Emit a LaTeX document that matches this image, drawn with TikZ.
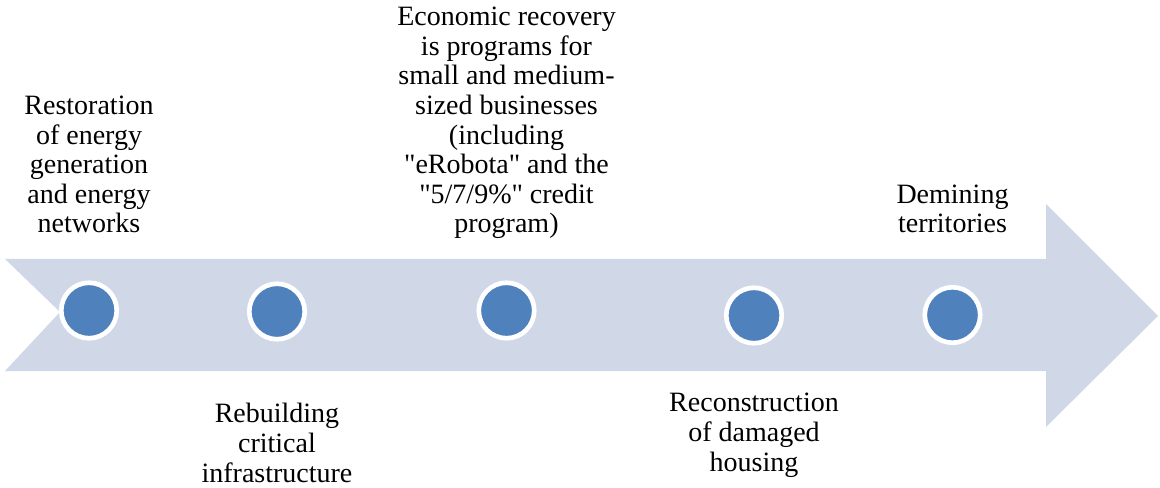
\documentclass[tikz,border=0pt]{standalone}
\usepackage{fontspec}
\setmainfont{Liberation Serif}[Ligatures=TeXOff]
\usepackage{xcolor}
\definecolor{arrowfill}{RGB}{208,216,232}
\definecolor{dotblue}{RGB}{79,129,189}
\tikzset{
  stepdot/.style={circle,draw=white,line width=3.5pt,fill=dotblue,minimum size=41.6pt,inner sep=0pt},
  steplabel/.style={anchor=base,align=center,inner sep=0pt,font=\fontsize{21pt}{22.2pt}\selectfont}
}

\begin{document}
\begin{tikzpicture}[x=0.75pt,y=0.75pt,yscale=-1,xscale=1]
\useasboundingbox (0,0) rectangle (1160,488);

%Shape: Notched Right Arrow
\fill [arrowfill] (5,259) -- (1046,259) -- (1046,204) -- (1158,316) -- (1046,427) -- (1046,371) -- (5,371) -- (60,312) -- cycle ;

%Dots on the arrow
\node [stepdot] (dot1) at (89,310.5) {};
\node [stepdot] (dot2) at (277,311.5) {};
\node [stepdot] (dot3) at (506.5,310.5) {};
\node [stepdot] (dot4) at (754,315.5) {};
\node [stepdot] (dot5) at (952.5,315) {};

% Text Node (base = last line)
\node [steplabel] (lab1) at (89,233) {Restoration\\of energy\\generation\\and energy\\networks};
% Text Node
\node [steplabel] (lab2) at (277,482) {Rebuilding\\critical\\infrastructure};
% Text Node
\node [steplabel] (lab3) at (506.5,233) {Economic recovery\\is programs for\\small and medium-\\sized businesses\\(including\\"eRobota" and the\\"5/7/9\%" credit\\program)};
% Text Node
\node [steplabel] (lab4) at (754,471) {Reconstruction\\of damaged\\housing};
% Text Node
\node [steplabel] (lab5) at (952.5,233) {Demining\\territories};

\end{tikzpicture}
\end{document}
